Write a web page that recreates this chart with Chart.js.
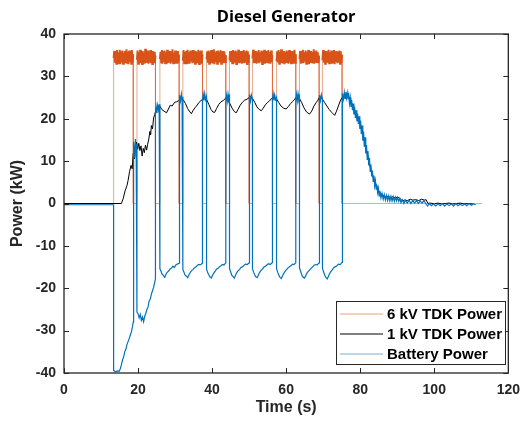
<html>
<head>
<meta charset="UTF-8">
<script src="https://cdn.jsdelivr.net/npm/chart.js@4.4.1/dist/chart.umd.min.js"></script>
<style>
  body { margin: 0; background: #fff; }
</style>
</head>
<body>
<canvas id="plot" width="529" height="424"></canvas>
<script>
// ---- data ----
const titleText = 'Diesel Generator';
const xLabel = 'Time (s)';
const yLabel = 'Power (kW)';
const seriesNames = ['6 kV TDK Power', '1 kV TDK Power', 'Battery Power'];
const xTicks = [0, 20, 40, 60, 80, 100, 120];
const yTicks = [-40, -30, -20, -10, 0, 10, 20, 30, 40];

// 6 kV TDK: on/off pulses (s) and the ripple sampled across each on-period (kW)
const orangeStart = [13.4, 19.7, 25.9, 32.1, 38.5, 44.7, 50.9, 57.4, 63.6, 69.8];
const orangeEnd = [18.7, 24.7, 31.1, 37.4, 43.7, 50.0, 56.3, 62.6, 68.9, 75.1];
const orangeRipple = [
  [34.3,36.0,33.2,35.8,33.0,36.2,33.4,35.7,33.1,36.3,32.9,35.9,33.3,36.1,33.0,35.6,33.5,36.0,33.1,36.4,33.2,35.8,32.9,36.1,33.4,35.7,33.0,36.2,33.3,35.2],
  [33.9,36.1,33.0,35.7,33.4,36.3,33.1,35.9,32.9,36.0,33.3,35.6,33.0,36.5,33.2,35.8,33.4,36.1,33.0,35.9,33.3,36.2,33.1,35.7,32.9,36.0,33.4,35.8,33.1,34.9],
  [34.1,35.8,33.3,36.2,33.0,35.9,33.4,36.1,33.1,35.7,32.9,36.3,33.2,35.8,33.5,36.0,33.0,35.9,33.3,36.4,33.1,35.6,33.4,36.1,33.0,35.8,33.2,36.0,33.4,35.1],
  [33.7,36.2,33.1,35.8,33.4,36.0,32.9,36.3,33.2,35.7,33.0,36.1,33.5,35.9,33.1,36.2,33.3,35.6,33.0,36.0,33.4,35.8,33.1,36.3,32.9,35.9,33.3,36.1,33.0,35.2],
  [34.0,35.9,33.2,36.1,33.0,35.8,33.5,36.2,33.1,35.9,33.3,36.4,32.9,35.7,33.4,36.0,33.0,36.1,33.2,35.8,33.4,36.2,33.0,35.9,33.3,36.0,33.1,35.7,33.4,35.0],
  [33.8,36.0,33.4,35.7,33.1,36.2,33.0,35.9,33.3,36.1,32.9,35.8,33.5,36.3,33.1,35.9,33.2,36.0,33.0,35.7,33.4,36.2,33.1,35.8,33.3,36.1,32.9,35.9,33.2,35.1],
  [34.2,36.3,33.1,35.9,33.4,36.0,33.0,35.8,33.3,36.2,33.1,35.7,33.5,36.1,32.9,35.9,33.2,36.3,33.0,35.8,33.4,36.0,33.1,36.2,33.3,35.7,33.0,36.1,33.4,35.0],
  [33.6,35.9,33.3,36.2,33.0,35.8,33.4,36.4,33.1,35.9,33.3,36.0,32.9,35.7,33.2,36.1,33.4,35.9,33.0,36.2,33.3,35.8,33.1,36.0,33.4,35.9,33.0,36.3,33.2,35.2],
  [34.1,36.0,33.0,35.9,33.4,36.3,33.1,35.7,33.5,36.1,33.0,35.8,33.3,36.2,32.9,35.9,33.4,36.0,33.1,35.8,33.3,36.4,33.0,35.9,33.2,36.1,33.4,35.7,33.1,34.9],
  [33.8,36.2,33.3,35.8,33.0,36.0,33.4,35.9,33.2,36.3,33.1,35.7,33.5,36.1,33.0,35.8,33.3,36.2,32.9,35.9,33.4,36.0,33.1,35.8,33.3,36.1,33.0,35.9,33.2,35.1]
];
const orangeStop = 112.9;

// 1 kV TDK: [time s, kW]
const blackTrace = [
  [0,0],[15.5,0],[16.0,1.2],[16.5,3.0],[17.0,4.2],[17.3,5.4],[17.7,7.5],[18.1,9.0],[18.4,8.2],[18.7,11.8],
  [19.0,10.5],[19.3,13.5],[19.6,14.5],[19.9,12.8],[20.2,14.2],[20.5,12.5],[20.8,13.6],[21.1,11.2],[21.4,13.0],
  [21.7,12.0],[22.0,13.8],[22.3,12.6],[22.6,14.0],[22.9,15.2],[23.2,17.0],[23.4,16.2],[23.6,18.4],[23.9,17.6],
  [24.2,20.2],[24.5,21.0],[24.8,22.0],[25.2,22.6],[25.9,23.0],[26.4,22.2],[27.0,21.8],[27.7,21.4],[28.2,22.3],
  [28.7,23.2],[29.2,23.0],[29.9,23.9],[30.4,24.0],[31.0,24.3],[31.7,24.8],[32.2,24.5],[32.8,23.6],[33.4,22.4],
  [34.0,21.6],[34.4,21.2],[34.9,22.0],[35.4,22.6],[35.8,23.0],[36.4,23.8],[37.0,24.3],[37.5,24.6],[38.0,25.0],
  [38.5,24.6],[39.1,23.4],[39.7,22.2],[40.2,21.6],[40.7,21.5],[41.2,22.4],[41.8,23.4],[42.4,24.0],[43.0,24.3],
  [43.7,24.9],[44.2,24.5],[44.8,23.6],[45.4,22.5],[46.0,21.7],[46.5,21.4],[47.0,22.2],[47.6,23.2],[48.2,23.9],
  [48.8,24.4],[49.4,24.6],[50.0,25.0],[50.5,25.2],[50.9,24.8],[51.5,23.9],[52.1,22.8],[52.7,22.2],[53.3,21.9],
  [53.8,22.5],[54.4,23.3],[54.9,23.8],[55.5,24.2],[56.0,24.7],[56.3,25.0],[56.8,25.1],[57.4,24.7],[58.0,23.8],
  [58.6,23.0],[59.3,22.5],[60.0,22.3],[60.6,22.9],[61.2,23.6],[61.8,24.1],[62.3,24.6],[62.6,25.0],[63.1,25.2],
  [63.6,24.8],[64.2,23.8],[64.8,22.6],[65.5,21.6],[66.3,21.1],[66.9,21.8],[67.5,23.0],[68.1,23.8],[68.6,24.4],
  [68.9,25.0],[69.4,25.1],[69.8,24.6],[70.4,23.8],[71.0,23.0],[71.6,22.2],[72.3,21.5],[73.1,20.8],[73.6,21.8],
  [74.1,23.0],[74.6,24.2],[75.1,25.0],[75.8,25.2],[76.3,25.6],[76.7,25.5],[77.2,24.4],[77.7,23.6],[78.3,22.2],
  [78.8,21.0],[79.3,20.4],[79.8,19.6],[80.3,18.0],[80.7,16.3],[81.2,14.9],[81.6,12.8],[82.0,11.4],[82.5,9.4],
  [83.0,7.6],[83.4,6.4],[83.9,5.4],[84.4,4.2],[84.8,3.4],[85.2,2.7],[85.8,2.2],[86.4,1.8],[87.0,1.5],[87.6,1.7],
  [88.2,1.4],[88.8,1.6],[89.4,1.3],[90.0,1.5],[90.6,1.3],[91.4,0.6],[92.0,0.8],[92.8,0.7],[93.5,1.0],[94.2,0.8],
  [95.0,0.9],[95.8,0.7],[96.6,1.0],[97.3,0.8],[97.8,0.9],[98.3,0.0],[99.0,0.1],[100.0,-0.1],[101.0,0.1],
  [102.0,-0.1],[103.0,0.0],[104.0,0.1],[105.0,-0.1],[106.0,0.0],[107.0,0.1],[108.0,-0.1],[109.0,0.0],[110.4,-0.1]
];

// Battery: [time s, kW]
const blueTrace = [
  [0,-0.3],[13.4,-0.3],[13.4,-39.4],[13.9,-39.7],[14.4,-39.5],[14.9,-39.6],[15.2,-39.0],[15.5,-38.1],[15.8,-37.0],
  [16.1,-36.2],[16.4,-35.0],[16.7,-34.4],[17.0,-33.3],[17.3,-32.6],[17.6,-31.9],[17.9,-31.1],[18.2,-30.3],
  [18.5,-29.0],[18.7,-28.0],
  [18.7,11.0],[18.9,14.6],[19.1,10.8],[19.3,15.2],[19.5,12.0],[19.7,14.0],
  [19.7,-25.6],[20.0,-26.0],[20.3,-27.0],[20.6,-26.2],[20.9,-27.6],[21.2,-26.8],[21.5,-27.9],[21.8,-26.6],
  [22.1,-25.9],[22.4,-25.0],[22.7,-24.4],[23.0,-23.0],[23.3,-22.6],[23.6,-21.4],[23.9,-20.6],[24.2,-19.8],
  [24.5,-18.6],[24.7,-17.7],
  [24.7,21.0],[24.9,22.8],[25.1,21.4],[25.3,23.2],[25.5,22.2],[25.7,23.4],[25.9,22.8],
  [25.9,-15.4],[26.2,-16.0],[26.5,-16.7],[26.8,-16.9],[27.2,-17.4],[27.5,-16.8],[27.8,-16.3],[28.2,-16.0],
  [28.6,-15.5],[29.0,-15.3],[29.4,-14.8],[29.8,-15.1],[30.2,-14.5],[30.6,-14.3],[31.1,-14.1],
  [31.1,24.0],[31.3,25.6],[31.5,24.2],[31.7,25.8],[31.9,24.4],[32.1,25.2],
  [32.1,-15.6],[32.4,-16.2],[32.7,-16.9],[33.0,-17.1],[33.4,-17.5],[33.7,-16.9],[34.0,-16.4],[34.4,-15.9],
  [34.8,-15.6],[35.2,-15.2],[35.6,-15.0],[36.0,-14.6],[36.4,-14.4],[36.8,-14.5],[37.4,-14.1],
  [37.4,24.2],[37.6,25.7],[37.8,24.3],[38.0,25.9],[38.2,24.5],[38.5,25.3],
  [38.5,-15.5],[38.8,-16.3],[39.1,-16.8],[39.4,-17.3],[39.8,-17.6],[40.1,-17.0],[40.4,-16.5],[40.8,-16.0],
  [41.2,-15.5],[41.6,-15.3],[42.0,-14.9],[42.4,-14.7],[42.8,-14.4],[43.2,-14.5],[43.7,-14.0],
  [43.7,24.0],[43.9,25.5],[44.1,24.1],[44.3,25.8],[44.5,24.4],[44.7,25.0],
  [44.7,-15.3],[45.0,-16.1],[45.3,-16.9],[45.6,-17.2],[46.0,-17.6],[46.3,-17.0],[46.6,-16.4],[47.0,-15.9],
  [47.4,-15.6],[47.8,-15.1],[48.2,-14.9],[48.6,-14.6],[49.0,-14.3],[49.5,-14.4],[50.0,-14.0],
  [50.0,24.3],[50.2,25.7],[50.4,24.2],[50.6,25.6],[50.9,24.6],
  [50.9,-15.4],[51.2,-16.2],[51.5,-16.8],[51.8,-17.3],[52.2,-17.5],[52.5,-16.9],[52.8,-16.3],[53.2,-15.8],
  [53.6,-15.5],[54.0,-15.0],[54.4,-14.8],[54.8,-14.5],[55.2,-14.2],[55.7,-14.4],[56.3,-13.9],
  [56.3,24.4],[56.5,25.8],[56.7,24.3],[56.9,25.6],[57.1,24.5],[57.4,25.1],
  [57.4,-15.4],[57.7,-16.2],[58.0,-16.9],[58.3,-17.4],[58.7,-17.7],[59.0,-17.1],[59.3,-16.6],[59.7,-16.0],
  [60.1,-15.6],[60.5,-15.2],[60.9,-14.9],[61.3,-14.7],[61.7,-14.3],[62.1,-14.4],[62.6,-14.0],
  [62.6,24.1],[62.8,25.7],[63.0,24.2],[63.2,25.9],[63.4,24.4],[63.6,25.0],
  [63.6,-15.2],[63.9,-16.0],[64.2,-16.8],[64.5,-17.3],[64.9,-17.6],[65.2,-17.2],[65.5,-16.6],[65.9,-16.1],
  [66.3,-15.7],[66.7,-15.3],[67.1,-15.0],[67.5,-14.6],[67.9,-14.4],[68.4,-14.5],[68.9,-14.0],
  [68.9,24.2],[69.1,25.6],[69.3,24.3],[69.5,25.7],[69.8,24.6],
  [69.8,-15.3],[70.1,-16.1],[70.4,-16.9],[70.7,-17.4],[71.1,-17.8],[71.4,-17.2],[71.7,-16.6],[72.1,-16.0],
  [72.5,-15.6],[72.9,-15.1],[73.3,-14.9],[73.7,-14.7],[74.1,-14.3],[74.6,-14.4],[75.1,-13.9],
  [75.1,24.4],[75.3,26.0],[75.5,24.6],[75.7,26.2],[75.9,24.8],[76.1,26.3],[76.3,24.9],[76.5,26.1],[76.7,24.6],
  [76.9,25.6],[77.1,23.6],[77.3,25.0],[77.5,22.8],[77.7,24.4],[77.9,22.0],[78.1,23.6],[78.3,21.0],[78.5,22.8],
  [78.7,20.2],[78.9,22.0],[79.1,19.4],[79.3,21.2],[79.5,18.8],[79.7,20.6],[79.9,17.6],[80.1,19.6],[80.3,16.4],
  [80.5,18.4],[80.7,14.8],[80.9,17.0],[81.1,13.4],[81.3,15.6],[81.5,11.8],[81.7,13.8],[81.9,10.4],[82.1,12.4],
  [82.3,9.0],[82.5,10.8],[82.7,7.6],[82.9,9.2],[83.1,6.4],[83.3,7.8],[83.5,5.2],[83.7,6.6],[83.9,4.2],[84.1,5.4],
  [84.3,3.4],[84.5,4.4],[84.7,2.6],[84.9,3.6],[85.1,1.8],[85.3,3.0],[85.6,1.3],[85.9,2.4],[86.2,1.0],[86.5,2.1],
  [86.8,0.8],[87.1,1.9],[87.4,0.7],[87.7,1.8],[88.0,0.6],[88.3,1.7],[88.6,0.6],[88.9,1.6],[89.2,0.5],[89.5,1.5],
  [89.8,0.6],[90.1,1.4],[90.4,0.5],[90.7,1.2],[91.0,0.2],[91.4,0.9],[91.8,0.0],[92.2,0.8],[92.7,0.1],[93.2,0.8],
  [93.7,0.0],[94.2,0.7],[94.7,0.1],[95.2,0.7],[95.7,0.0],[96.2,0.6],[96.7,0.1],[97.2,0.7],[97.7,0.0],[98.2,-0.6],
  [98.7,0.0],[99.2,-0.5],[99.8,-0.1],[100.4,-0.6],[101.0,-0.1],[101.6,-0.5],[102.2,0.0],[102.8,-0.6],
  [103.4,-0.1],[104.0,-0.5],[104.6,-0.1],[105.2,-0.6],[105.8,0.0],[106.4,-0.5],[107.0,-0.1],[107.6,-0.5],
  [108.2,-0.1],[108.8,-0.5],[109.4,0.0],[110.0,-0.4],[110.6,-0.1],[111.2,-0.3]
];

const colors = ['#D95319', '#000000', '#0072BD'];

// ---- build point lists ----
let orangePts = [{x: 0, y: 0}];
for (let k = 0; k < orangeStart.length; k++) {
  const r = orangeRipple[k];
  const s = orangeStart[k], e = orangeEnd[k];
  orangePts.push({x: s, y: 0});
  for (let i = 0; i < r.length; i++) {
    orangePts.push({x: s + (e - s) * i / (r.length - 1), y: r[i]});
  }
  orangePts.push({x: e, y: 0});
}
orangePts.push({x: orangeStop, y: 0});

const toPts = arr => arr.map(p => ({x: p[0], y: p[1]}));
const onRipple = c => c.p0.parsed.y > 20 && c.p1.parsed.y > 20;

const tickFont = {family: '"Liberation Sans", Arial, sans-serif', size: 14, weight: 'bold'};

// frame, inward ticks, titles and legend drawn MATLAB style
const frame = {
  id: 'frame',
  afterDraw(chart) {
    const ctx = chart.ctx;
    const a = chart.chartArea;
    const xs = chart.scales.x, ys = chart.scales.y;
    ctx.save();
    ctx.strokeStyle = '#262626';
    ctx.lineWidth = 1.3;
    ctx.strokeRect(a.left, a.top, a.right - a.left, a.bottom - a.top);
    ctx.beginPath();
    xTicks.forEach(v => {
      const px = Math.round(xs.getPixelForValue(v)) + 0.5;
      ctx.moveTo(px, a.bottom); ctx.lineTo(px, a.bottom - 5);
      ctx.moveTo(px, a.top); ctx.lineTo(px, a.top + 5);
    });
    yTicks.forEach(v => {
      const py = Math.round(ys.getPixelForValue(v)) + 0.5;
      ctx.moveTo(a.left, py); ctx.lineTo(a.left + 5, py);
      ctx.moveTo(a.right, py); ctx.lineTo(a.right - 5, py);
    });
    ctx.lineWidth = 1;
    ctx.stroke();

    ctx.fillStyle = '#000';
    ctx.textAlign = 'center';
    ctx.textBaseline = 'middle';
    ctx.font = 'bold 16.5px "Open Sans", sans-serif';
    ctx.fillText(titleText, (a.left + a.right) / 2, 17);
    ctx.fillStyle = '#262626';
    ctx.font = 'bold 16px "Liberation Sans", Arial, sans-serif';
    ctx.fillText(xLabel, (a.left + a.right) / 2, 408);
    ctx.save();
    ctx.translate(18, (a.top + a.bottom) / 2);
    ctx.rotate(-Math.PI / 2);
    ctx.fillText(yLabel, 0, 0);
    ctx.restore();

    // legend box
    const bx = 336.5, by = 301.5, bw = 169, bh = 63;
    ctx.fillStyle = '#fff';
    ctx.fillRect(bx, by, bw, bh);
    ctx.strokeStyle = '#262626';
    ctx.lineWidth = 1;
    ctx.strokeRect(bx, by, bw, bh);
    ctx.textAlign = 'left';
    ctx.font = 'bold 15px "Liberation Sans", Arial, sans-serif';
    seriesNames.forEach((name, i) => {
      const ly = 314 + i * 20;
      ctx.strokeStyle = colors[i];
      ctx.globalAlpha = i === 1 ? 1 : 0.55;
      ctx.beginPath();
      ctx.moveTo(340, ly); ctx.lineTo(383, ly);
      ctx.stroke();
      ctx.globalAlpha = 1;
      ctx.fillStyle = '#000';
      ctx.fillText(name, 387, ly + 1);
    });
    ctx.restore();
  }
};

new Chart(document.getElementById('plot'), {
  type: 'line',
  data: {
    datasets: [
      {
        label: seriesNames[0], data: orangePts, borderColor: colors[0], order: 3,
        segment: {
          borderWidth: c => onRipple(c) ? 2 : 1,
          borderColor: c => onRipple(c) ? colors[0] : 'rgba(217,83,25,0.5)'
        }
      },
      {label: seriesNames[1], data: toPts(blackTrace), borderColor: colors[1], order: 2},
      {label: seriesNames[2], data: toPts(blueTrace), borderColor: colors[2], borderWidth: 1.2, order: 1}
    ]
  },
  options: {
    responsive: false,
    animation: false,
    devicePixelRatio: 1,
    layout: {padding: {left: 0, right: 20, top: 34, bottom: 0}},
    elements: {
      point: {radius: 0},
      line: {borderWidth: 1, tension: 0}
    },
    plugins: {legend: {display: false}, title: {display: false}, tooltip: {enabled: false}},
    scales: {
      x: {
        type: 'linear', min: 0, max: 120,
        afterBuildTicks: s => { s.ticks = xTicks.map(v => ({value: v})); },
        afterFit: s => { s.height = 51; },
        grid: {display: false, drawTicks: false},
        border: {display: false},
        ticks: {font: tickFont, color: '#262626', padding: 9, maxRotation: 0}
      },
      y: {
        type: 'linear', min: -40, max: 40,
        afterBuildTicks: s => { s.ticks = yTicks.map(v => ({value: v})); },
        afterFit: s => { s.width = 64; },
        grid: {display: false, drawTicks: false},
        border: {display: false},
        ticks: {font: tickFont, color: '#262626', padding: 8}
      }
    }
  },
  plugins: [frame]
});
</script>
</body>
</html>
